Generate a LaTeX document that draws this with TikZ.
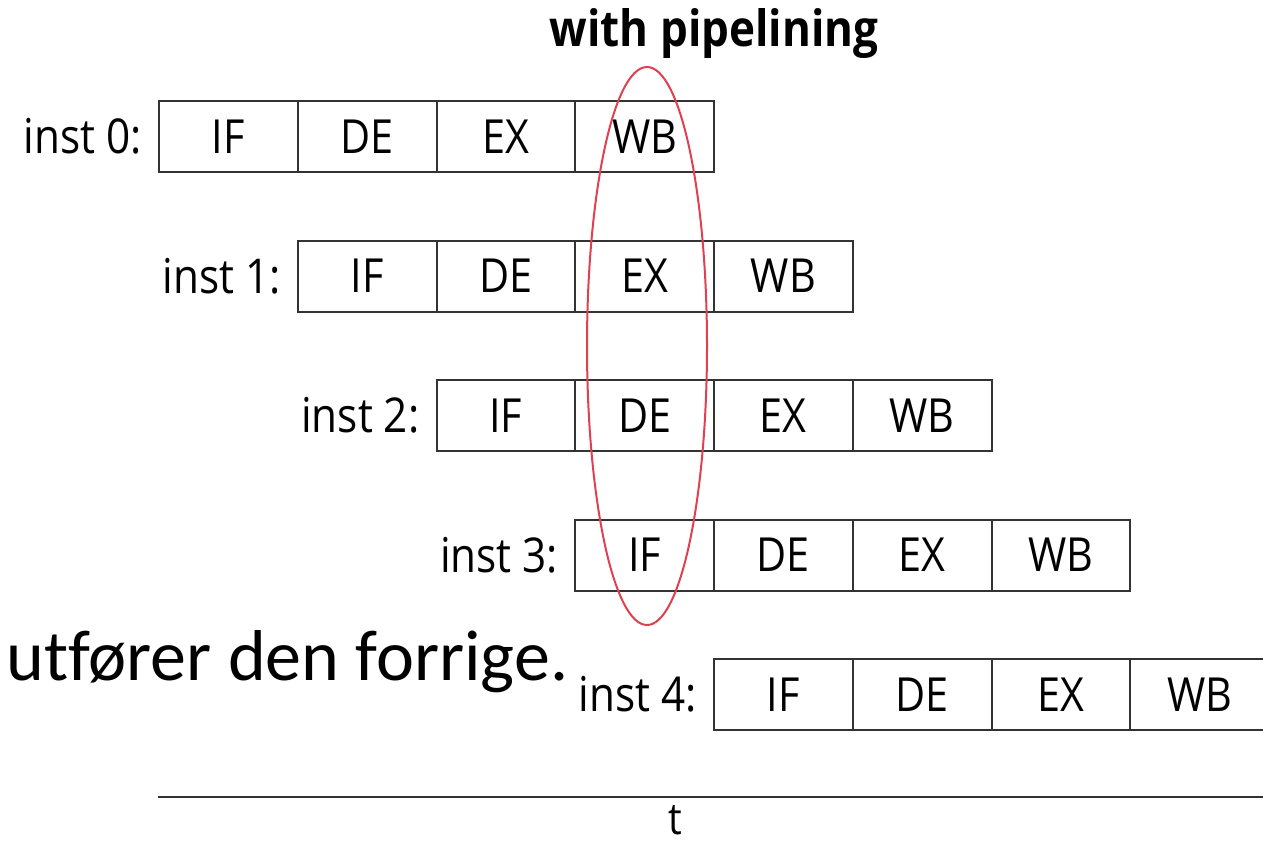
\documentclass[tikz,border=0pt]{standalone}
\usepackage{fontspec}
\newfontfamily\dia[FakeStretch=0.88]{Open Sans}
\newfontfamily\slide[Ligatures=NoCommon]{Carlito}
\definecolor{boxline}{HTML}{333333}
\definecolor{ellred}{HTML}{E0404F}
\begin{document}
\begin{tikzpicture}[x=1pt,y=-1pt,
  cell/.style={draw=boxline,line width=2pt,minimum width=138.75pt,minimum height=71pt,inner sep=0pt,anchor=north west,font=\dia\fontsize{47}{50}\selectfont},
  lab/.style={anchor=east,inner sep=0pt,font=\dia\fontsize{48}{50}\selectfont}]
\useasboundingbox (0,0) rectangle (1263,843);
\fill[white] (0,0) rectangle (1263,843);
\node[font=\dia\bfseries\fontsize{50}{54}\selectfont,anchor=base] (title) at (714,47) {with pipelining};
\foreach \i in {0,...,4}{
  \pgfmathsetmacro{\x}{158+138.75*\i}
  \pgfmathsetmacro{\y}{100+139.5*\i}
  \node[cell] (r\i c0) at (\x,\y) {IF};
  \node[cell] (r\i c1) at (\x+138.75,\y) {DE};
  \node[cell] (r\i c2) at (\x+277.5,\y) {EX};
  \node[cell] (r\i c3) at (\x+416.25,\y) {WB};
  \node[lab] (l\i) at ([xshift=-16pt]r\i c0.west) {inst \i:};
}
\draw[ellred,line width=2pt] (647,346) ellipse [x radius=60, y radius=279];
\node[font=\slide\fontsize{72}{76}\selectfont,anchor=base west,inner sep=0pt] (txt) at (6,680) {utfører den forrige.};
\coordinate (t0) at (158,797);
\coordinate (t1) at (1263,797);
\draw[boxline,line width=2pt] (t0) -- (t1);
\node[font=\dia\fontsize{44}{48}\selectfont,anchor=base,inner sep=0pt] (t) at (675,834) {t};
\end{tikzpicture}
\end{document}
